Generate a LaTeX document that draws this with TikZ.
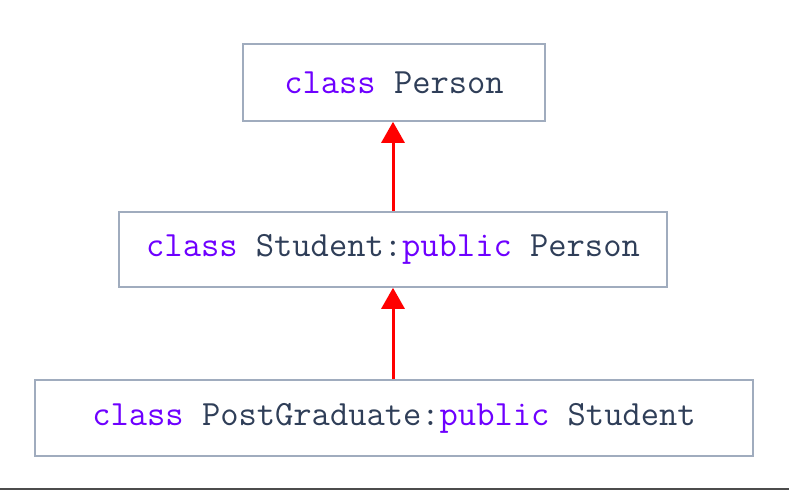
\documentclass[tikz,border=0pt]{standalone}
\usepackage{fontspec}
\usetikzlibrary{arrows.meta}
\definecolor{kw}{RGB}{110,0,255}
\definecolor{txt}{RGB}{47,62,88}
\definecolor{bd}{RGB}{160,172,190}
\definecolor{arr}{RGB}{255,0,0}
\tikzset{
  cls/.style={draw=bd, line width=1.6pt, fill=white, inner sep=0pt, font=\ttfamily\fontsize{35.5}{40}\selectfont\addfontfeatures{FakeBold=1.3}, text=txt},
  inh/.style={draw=arr, line width=3pt, -{Triangle[length=21pt,width=23pt]}}
}
\newcommand{\kwd}[1]{\textcolor{kw}{#1}}
\begin{document}
\begin{tikzpicture}[x=1pt,y=-1pt]
\useasboundingbox (0,0) rectangle (789,490);
\fill[white] (0,0) rectangle (789,490);
\node[cls, minimum width=302pt, minimum height=77pt] (p) at (394,82.5) {\kwd{class} Person};
\node[cls, minimum width=548pt, minimum height=75pt] (s) at (393,249.5) {\kwd{class} Student:\kwd{public} Person};
\node[cls, minimum width=718pt, minimum height=76pt] (g) at (394,418) {\kwd{class} PostGraduate:\kwd{public} Student};
\coordinate (a1) at (s.north);
\draw[inh] (a1) -- (a1 |- p.south);
\coordinate (a2) at (s.south);
\draw[inh] (a2 |- g.north) -- (a2);
\fill[black!70] (0,487.5) rectangle (789,490);
\end{tikzpicture}
\end{document}
